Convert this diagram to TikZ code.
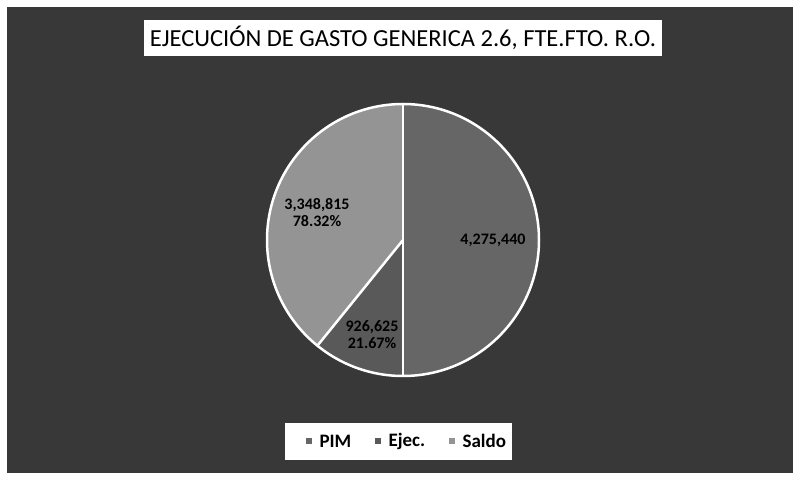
\documentclass[tikz,border=0pt]{standalone}
\usepackage{fontspec}
\setmainfont{Carlito}
\usetikzlibrary{calc}
\tikzset{
  lbl/.style={font=\bfseries\fontsize{16}{17}\selectfont, align=center, text=black},
  legtext/.style={anchor=west, font=\bfseries\fontsize{19}{20}\selectfont},
  sep/.style={white, line width=2.5pt}
}
\definecolor{bgdark}{gray}{0.22}
\definecolor{pimcol}{gray}{0.40}
\definecolor{ejecol}{gray}{0.35}
\definecolor{salcol}{gray}{0.58}
\begin{document}
\begin{tikzpicture}[x=1pt, y=1pt]
  \fill[white] (0,0) rectangle (798,479);
  \fill[bgdark] (7,6) rectangle (793,472);
  % title
  \fill[white] (144,423) rectangle (662,459);
  \node (title) at (403,441) {\fontsize{24.5}{26}\selectfont EJECUCIÓN DE GASTO GENERICA 2.6, FTE.FTO. R.O.};
  % pie
  \coordinate (c) at (403,239);
  \fill[pimcol] (c) -- ($(c)+(-90:136)$) arc(-90:90:136) -- cycle;
  \fill[ejecol] (c) -- ($(c)+(231:136)$) arc(231:270:136) -- cycle;
  \fill[salcol] (c) -- ($(c)+(90:136)$) arc(90:231:136) -- cycle;
  \draw[sep] (c) circle (136);
  \draw[sep] ($(c)+(90:136)$) -- ($(c)+(-90:136)$);
  \draw[sep] (c) -- ($(c)+(231:136)$);
  \node[lbl] (pim) at (493,239) {4,275,440};
  \node[lbl] (sal) at (317,266) {3,348,815\\78.32\%};
  \node[lbl] (eje) at (372,144) {926,625\\21.67\%};
  % legend
  \fill[white] (285,19) rectangle (512,56);
  \fill[pimcol] (306,35) rectangle (312,41);
  \node[legtext] (lpim) at (316,38) {PIM};
  \fill[ejecol] (375,35) rectangle (381,41);
  \node[legtext] (leje) at (385,38) {Ejec.};
  \fill[salcol] (449,35) rectangle (455,41);
  \node[legtext] (lsal) at (459,38) {Saldo};
\end{tikzpicture}
\end{document}
